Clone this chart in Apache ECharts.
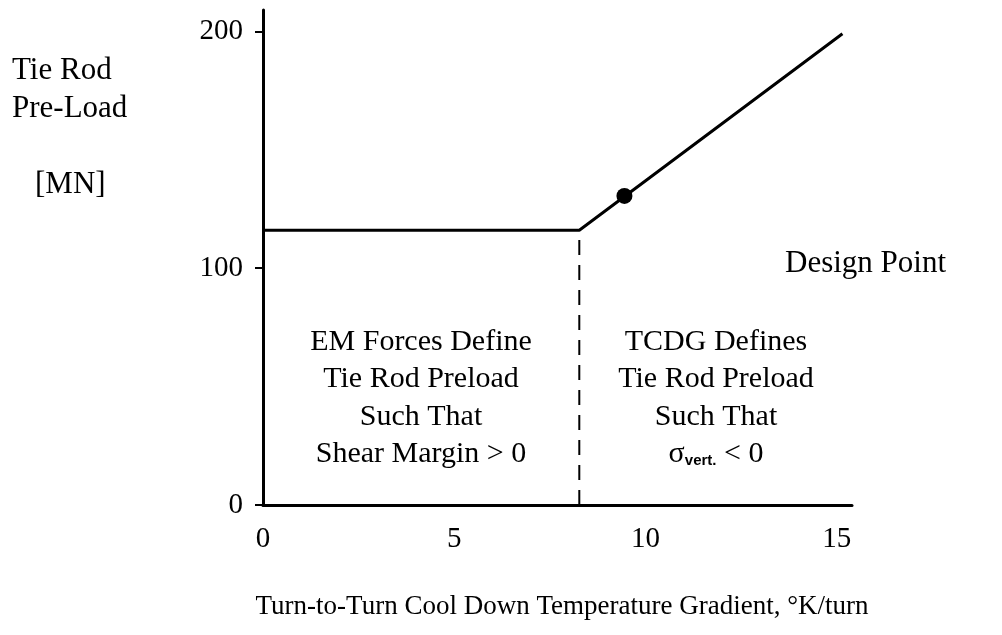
<!DOCTYPE html>
<html>
<head>
<meta charset="utf-8">
<script src="https://cdn.jsdelivr.net/npm/echarts@6/dist/echarts.min.js"></script>
<style>
  html, body { margin: 0; padding: 0; background: #fff; }
  #main { width: 1002px; height: 635px; }
</style>
</head>
<body>
<div id="main"></div>
<script>
// values
var xTicks = [0, 5, 10, 15];
var yTicks = [0, 100, 200];
var preloadCurve = [[0, 116], [8.27, 116], [15.15, 199]];   // flat part, then TCDG part
var boundaryLine = [[8.27, 0], [8.27, 116]];                // dashed divider
var designPoint = [[9.45, 130.5]];

var serif = '"Liberation Serif", "DejaVu Serif", serif';
var myChart = echarts.init(document.getElementById('main'));

var option = {
	backgroundColor: '#fff',
	animation: false,
	grid: {
		left: 263,
		right: 150,
		top: 10,
		bottom: 130
	},
	xAxis: {
		type: 'value',
		min: 0,
		max: 15.4,
		interval: 5,
		axisLine: { show: true, onZero: false, lineStyle: { color: '#000', width: 3 } },
		axisTick: { show: false },
		splitLine: { show: false },
		axisLabel: {
			color: '#000',
			fontFamily: serif,
			fontSize: 29,
			margin: 20,
			showMaxLabel: false,
			formatter: function(v) {
				return xTicks.indexOf(v) > -1 ? v : '';
			}
		}
	},
	yAxis: {
		type: 'value',
		min: 0,
		max: 209,
		interval: 100,
		axisLine: { show: true, lineStyle: { color: '#000', width: 3 } },
		axisTick: { show: true, length: 8, lineStyle: { color: '#000', width: 2 } },
		splitLine: { show: false },
		axisLabel: {
			color: '#000',
			fontFamily: serif,
			fontSize: 29,
			margin: 20,
			showMaxLabel: false,
			formatter: function(v) {
				return yTicks.indexOf(v) > -1 ? v : '';
			}
		}
	},
	series: [{
		type: 'line',
		data: preloadCurve,
		symbol: 'none',
		lineStyle: { color: '#000', width: 3 }
	}, {
		type: 'line',
		data: boundaryLine,
		symbol: 'none',
		lineStyle: { color: '#000', width: 2, type: [15, 10] }
	}, {
		type: 'scatter',
		data: designPoint,
		symbolSize: 16,
		itemStyle: { color: '#000', opacity: 1 }
	}],
	graphic: [{
		type: 'text', x: 12, y: 52,
		style: { text: 'Tie Rod\nPre-Load', font: '31px ' + serif, fill: '#000', lineHeight: 38 }
	}, {
		type: 'text', x: 35, y: 169,
		style: { text: '[MN]', font: '31px ' + serif, fill: '#000' }
	}, {
		type: 'text', x: 785, y: 248,
		style: { text: 'Design Point', font: '31px ' + serif, fill: '#000' }
	}, {
		type: 'text', x: 421, y: 323,
		style: {
			text: 'EM Forces Define\nTie Rod Preload\nSuch That\nShear Margin > 0',
			font: '30px ' + serif, fill: '#000', lineHeight: 37.5, align: 'center'
		}
	}, {
		type: 'text', x: 716, y: 323,
		style: {
			text: 'TCDG Defines\nTie Rod Preload\nSuch That\n{s|σ}{sub|vert.}{s| < 0}',
			font: '30px ' + serif, fill: '#000', lineHeight: 37.5, align: 'center',
			rich: {
				s: { fontFamily: serif, fontSize: 30, lineHeight: 37.5 },
				sub: { fontFamily: '"Liberation Sans", sans-serif', fontSize: 15, fontWeight: 'bold', padding: [14, 0, 0, 0], lineHeight: 37.5 }
			}
		}
	}, {
		type: 'text', x: 562, y: 593,
		style: { text: 'Turn-to-Turn Cool Down Temperature Gradient, °K/turn', font: '27px ' + serif, fill: '#000', align: 'center' }
	}]
};

myChart.setOption(option);
</script>
</body>
</html>
